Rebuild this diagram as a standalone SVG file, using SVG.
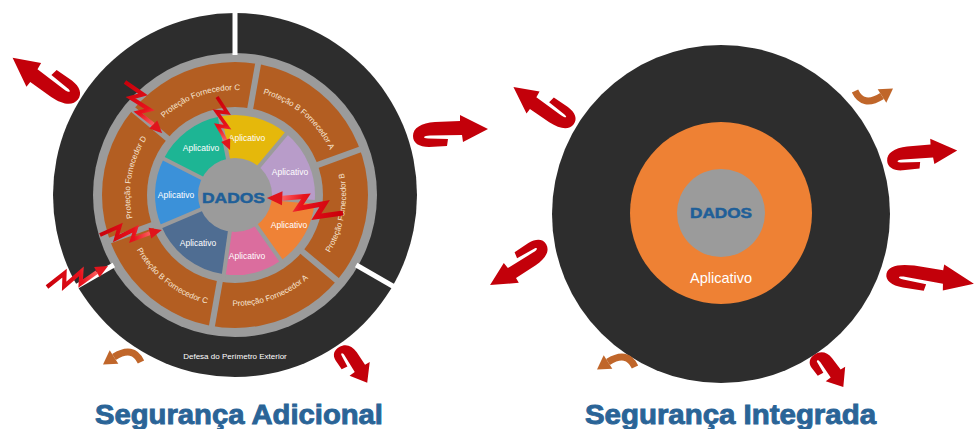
<svg xmlns="http://www.w3.org/2000/svg" width="974" height="429" viewBox="0 0 974 429">
<defs>
<style>
.f{font-family:"Liberation Sans",Arial,sans-serif}
.dark{fill:#2d2d2d}
.gray{fill:#9b9b9b}
.brown{fill:#b35e22}
.div{stroke:#9b9b9b;fill:none}
.gap{stroke:#ffffff;stroke-width:5;fill:none}
.app{font-family:"Liberation Sans",Arial,sans-serif;font-size:8.5px;fill:#ffffff;text-anchor:middle}
.rl{font-family:"Liberation Sans",Arial,sans-serif;font-size:8px;fill:#f7e6d4}
.dados{font-family:"Liberation Sans",Arial,sans-serif;font-weight:bold;fill:#1f5f98;stroke:#1f5f98;stroke-width:0.5;text-anchor:middle}
.title{font-family:"Liberation Sans",Arial,sans-serif;font-weight:bold;font-size:27px;fill:#2a6497;stroke:#2a6497;stroke-width:0.9;text-anchor:middle}
.red{fill:#c3000a}
</style>
<linearGradient id="boltg" gradientUnits="userSpaceOnUse" x1="0" y1="0" x2="62" y2="0">
<stop offset="0" stop-color="#c8000a"/>
<stop offset="0.55" stop-color="#e8121c"/>
<stop offset="0.85" stop-color="#ff6a6a"/>
<stop offset="1" stop-color="#e0141c"/>
</linearGradient>
<path id="uarrow" d="M0,3 C0,-5 8,-10 22,-11 L47,-12 L47,-18 L75,-4 L50,9 L49,2 L17,2.5 C10,2.5 9,5.5 15,5.5 L35,6 L34,13 L16,14 C6,14 0,10 0,3 Z"/>
<g id="bolt">
<polyline points="0,0 20,-8 16,4 36,-5 32,6 50,0" fill="none" stroke="url(#boltg)" stroke-width="4" stroke-linejoin="miter" stroke-miterlimit="10"/>
<polygon points="48.9,-5.5 62,-2.6 51.1,5.5" fill="#e0141c"/>
</g>
<g id="oarrow">
<path d="M141,362 Q133,345 114,357" fill="none" stroke="#c0662a" stroke-width="7"/>
<polygon points="109.7,350.2 118.3,363.8 103,364.5" fill="#c0662a"/>
</g>
<path id="tC" d="M133.6,167.8 A105,105 0 0 1 295.2,109.0"/>
<path id="tBA" d="M207.8,93.6 A105,105 0 0 1 339.6,204.2"/>
<path id="tD" d="M160.8,269.2 A105,105 0 0 1 190.6,99.8"/>
<path id="tB" d="M281.9,295.6 A111,111 0 0 0 313.5,116.5"/>
<path id="tA" d="M171.3,285.9 A111,111 0 0 0 342.2,223.7"/>
<path id="tBC" d="M122.6,195 A112,112 0 0 0 263.7,303.2"/>
</defs>

<rect width="974" height="429" fill="#ffffff"/>

<!-- LEFT: Segurança Adicional -->
<g id="perimetro">
<circle cx="235" cy="195" r="182" class="dark"/>
<circle cx="235" cy="195" r="142" class="gray"/>
<line x1="235" y1="55" x2="235" y2="9" class="gap"/>
<line x1="356.2" y1="265" x2="396.1" y2="288" class="gap"/>
<line x1="113.8" y1="265" x2="73.9" y2="288" class="gap"/>
<text class="f" x="235" y="359" font-size="8" fill="#ffffff" text-anchor="middle">Defesa do Perímetro Exterior</text>
</g>

<g id="protecao-ring">
<circle cx="235" cy="195" r="133" class="brown"/>
<circle cx="235" cy="195" r="88" class="gray"/>
<g class="div" stroke-width="6">
<line x1="315.8" y1="165.6" x2="362.8" y2="148.5"/>
<line x1="249.9" y1="110.3" x2="258.6" y2="61.1"/>
<line x1="169.1" y1="139.7" x2="130.8" y2="107.6"/>
<line x1="154.2" y1="224.4" x2="107.2" y2="241.5"/>
<line x1="220.1" y1="279.7" x2="211.4" y2="328.9"/>
<line x1="300.9" y1="250.3" x2="339.2" y2="282.4"/>
</g>
<text class="rl"><textPath href="#tC" startOffset="50%" text-anchor="middle">Proteção Fornecedor C</textPath></text>
<text class="rl"><textPath href="#tBA" startOffset="50%" text-anchor="middle">Proteção B Fornecedor A</textPath></text>
<text class="rl"><textPath href="#tD" startOffset="50%" text-anchor="middle">Proteção Fornecedor D</textPath></text>
<text class="rl"><textPath href="#tB" startOffset="50%" text-anchor="middle">Proteção Fornecedor B</textPath></text>
<text class="rl"><textPath href="#tA" startOffset="50%" text-anchor="middle">Proteção Fornecedor A</textPath></text>
<text class="rl"><textPath href="#tBC" startOffset="50%" text-anchor="middle">Proteção B Fornecedor C</textPath></text>
</g>

<g id="aplicativos">
<path d="M235,195 L219.7,116.5 A80,80 0 0 0 163.7,158.7 Z" fill="#1db594"/>
<path d="M235,195 L163.7,158.7 A80,80 0 0 0 161.4,226.3 Z" fill="#3b91d9"/>
<path d="M235,195 L161.4,226.3 A80,80 0 0 0 223.9,274.2 Z" fill="#4f6d92"/>
<path d="M235,195 L223.9,274.2 A80,80 0 0 0 280.9,260.5 Z" fill="#db6d9e"/>
<path d="M235,195 L280.9,260.5 A80,80 0 0 0 314.7,202.0 Z" fill="#ef8236"/>
<path d="M235,195 L314.7,202.0 A80,80 0 0 0 286.4,133.7 Z" fill="#b89cc9"/>
<path d="M235,195 L286.4,133.7 A80,80 0 0 0 219.7,116.5 Z" fill="#e5b80b"/>
<g class="div" stroke-width="4">
<line x1="235" y1="195" x2="218.6" y2="110.6"/>
<line x1="235" y1="195" x2="158.4" y2="156.0"/>
<line x1="235" y1="195" x2="155.8" y2="228.6"/>
<line x1="235" y1="195" x2="223.0" y2="280.2"/>
<line x1="235" y1="195" x2="284.3" y2="265.4"/>
<line x1="235" y1="195" x2="320.7" y2="202.5"/>
<line x1="235" y1="195" x2="290.3" y2="129.1"/>
</g>
<text class="app" x="201" y="151">Aplicativo</text>
<text class="app" x="247" y="141">Aplicativo</text>
<text class="app" x="290" y="175">Aplicativo</text>
<text class="app" x="176" y="198">Aplicativo</text>
<text class="app" x="289" y="228">Aplicativo</text>
<text class="app" x="198" y="246">Aplicativo</text>
<text class="app" x="247" y="259">Aplicativo</text>
</g>

<g id="dados-left">
<circle cx="235" cy="195" r="37" class="gray"/>
<text class="dados" x="233.5" y="202.5" font-size="15" textLength="63" lengthAdjust="spacingAndGlyphs">DADOS</text>
</g>

<!-- RIGHT: Segurança Integrada -->
<g id="perimetro-integrado">
<circle cx="721" cy="214" r="169" class="dark"/>
</g>
<g id="aplicativo-integrado">
<circle cx="721" cy="213" r="91" fill="#ee8134"/>
<text class="f" x="721" y="283" font-size="14.5" fill="#ffffff" text-anchor="middle">Aplicativo</text>
</g>
<g id="dados-right">
<circle cx="721" cy="213" r="44" class="gray"/>
<text class="dados" x="721" y="217.5" font-size="14" textLength="62" lengthAdjust="spacingAndGlyphs">DADOS</text>
</g>

<!-- connectors: arrows and bolts -->
<g id="connectors">
<g class="red">
<use href="#uarrow" transform="translate(76,102) rotate(218) scale(1.03)"/>
<use href="#uarrow" transform="translate(413,133)"/>
<use href="#uarrow" transform="translate(341.6,345.7) rotate(60) scale(0.6,0.9)"/>
<use href="#uarrow" transform="translate(572,126.5) rotate(217) scale(0.94)"/>
<use href="#uarrow" transform="translate(547.6,246.6) rotate(149.4) scale(0.92)"/>
<use href="#uarrow" transform="translate(887,158) rotate(-3) scale(0.94)"/>
<use href="#uarrow" transform="translate(887,271) rotate(10.9) scale(1.17,0.95)"/>
<use href="#uarrow" transform="translate(817,353) rotate(57) scale(0.57,0.9)"/>
</g>
<use href="#oarrow"/>
<use href="#oarrow" transform="translate(494,5)"/>
<use href="#oarrow" transform="translate(873,95) rotate(180) translate(-123,-358)"/>
<use href="#bolt" transform="translate(125,82) rotate(56.4) scale(1.02)"/>
<use href="#bolt" transform="translate(217,97) rotate(78.6) scale(0.88)"/>
<use href="#bolt" transform="translate(343,213) rotate(193.6) scale(1.25)"/>
<use href="#bolt" transform="translate(100,235) rotate(-2.2)"/>
<use href="#bolt" transform="translate(47,287) rotate(-16.6) scale(1.04)"/>
</g>

<g id="titles">
<text class="title" x="239" y="424" textLength="288" lengthAdjust="spacingAndGlyphs">Segurança Adicional</text>
<text class="title" x="730.5" y="424" textLength="291" lengthAdjust="spacingAndGlyphs">Segurança Integrada</text>
</g>
</svg>
